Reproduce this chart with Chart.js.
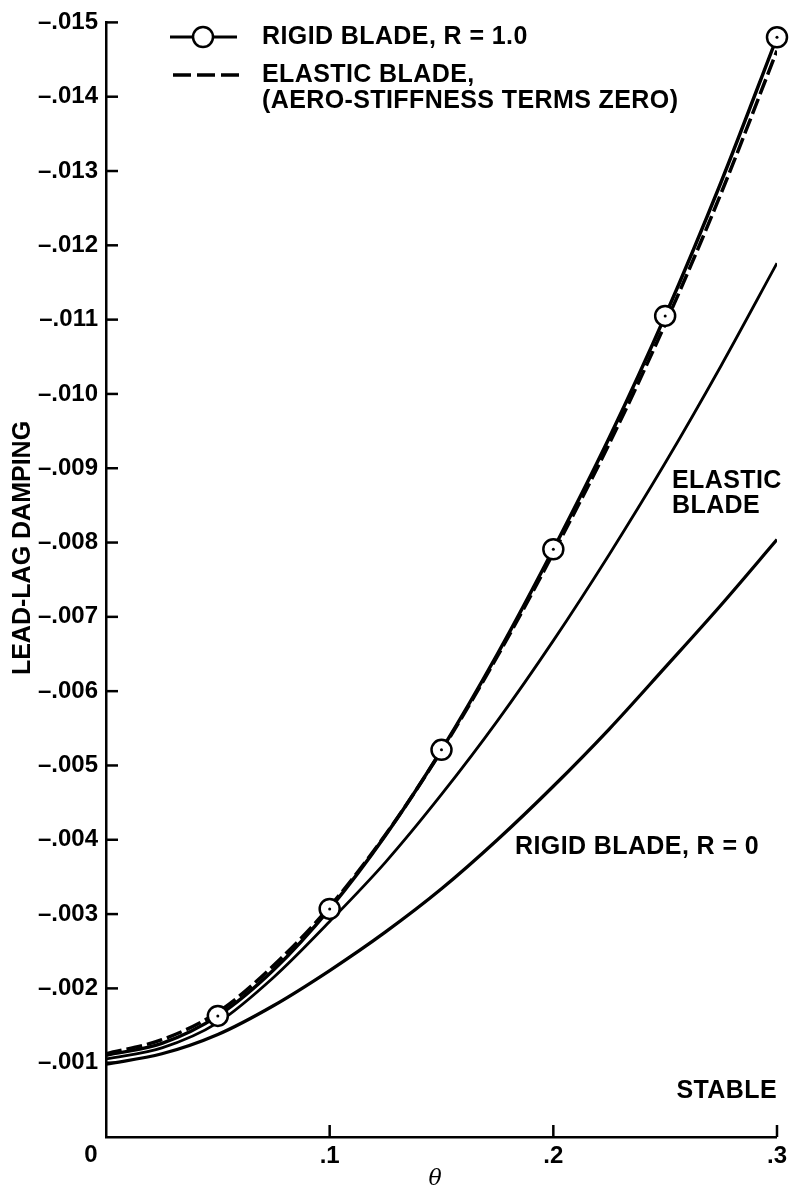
<!doctype html>
<html>
<head>
<meta charset="UTF-8">
<title>Lead-lag damping</title>
<script src="https://cdn.jsdelivr.net/npm/chart.js"></script>
<style>
  html, body { margin: 0; padding: 0; background: #fff; }
  #wrap { width: 792px; height: 1192px; position: relative; }
</style>
</head>
<body>
<div id="wrap"><canvas id="chart"></canvas></div>
<script>
// values (theta vs lead-lag damping)
const thetaCurve = [0, 0.025, 0.05, 0.075, 0.1, 0.125, 0.15, 0.175, 0.2, 0.225, 0.25, 0.275, 0.3];
const rigidR1 = [-0.00110, -0.00126, -0.00163, -0.00225, -0.00307, -0.00406, -0.00521,
  -0.00650, -0.00791, -0.00941, -0.01105, -0.01285, -0.01480];
const elasticAeroZero = [-0.00112, -0.00131, -0.00168, -0.00231, -0.00310, -0.00407, -0.00520,
  -0.00647, -0.00786, -0.00933, -0.01094, -0.01270, -0.01462];
const elasticBlade = [-0.00105, -0.00120, -0.00154, -0.00215, -0.00290, -0.00370, -0.00461,
  -0.00560, -0.00668, -0.00784, -0.00907, -0.01038, -0.01176];
const rigidR0 = [-0.00098, -0.00112, -0.00138, -0.00177, -0.00224, -0.00276, -0.00334,
  -0.00400, -0.00472, -0.00549, -0.00632, -0.00716, -0.00804];

const thetaMarks = [0.05, 0.1, 0.15, 0.2, 0.25, 0.3];
const rigidR1Marks = [-0.00163, -0.00307, -0.00521, -0.00791, -0.01105, -0.01480];

const xTickLabels = ['0', '.1', '.2', '.3'];
const yTickLabels = ['', '–.001', '–.002', '–.003', '–.004', '–.005', '–.006', '–.007',
  '–.008', '–.009', '–.010', '–.011', '–.012', '–.013', '–.014', '–.015'];

const legendItems = ['RIGID BLADE, R = 1.0', 'ELASTIC BLADE,', '(AERO-STIFFNESS TERMS ZERO)'];

const toPoints = (xs, ys) => xs.map((x, i) => ({ x: x, y: ys[i] }));

const FONT = '"Liberation Sans", Arial, sans-serif';

const line = (data, width, dash) => ({
  data: data,
  borderColor: '#000',
  borderWidth: width,
  borderDash: dash || [],
  pointRadius: 0,
  fill: false,
  cubicInterpolationMode: 'monotone',
});

// inside ticks, marker dots, legend and labels
const decor = {
  id: 'decor',
  afterDraw(chart) {
    const ctx = chart.ctx;
    const xs = chart.scales.x;
    const ys = chart.scales.y;
    const area = chart.chartArea;
    ctx.save();
    ctx.strokeStyle = '#000';
    ctx.lineWidth = 2.5;
    ys.ticks.forEach((t) => {
      if (Math.round(t.value * 1000) === 0) return;
      const y = ys.getPixelForValue(t.value);
      ctx.beginPath();
      ctx.moveTo(area.left, y);
      ctx.lineTo(area.left + 12, y);
      ctx.stroke();
    });
    xs.ticks.forEach((t) => {
      if (t.value === 0) return;
      const x = xs.getPixelForValue(t.value);
      ctx.beginPath();
      ctx.moveTo(x, area.bottom);
      ctx.lineTo(x, area.bottom - 12);
      ctx.stroke();
    });

    // centre dots in the circle markers
    const meta = chart.getDatasetMeta(0);
    ctx.fillStyle = '#000';
    meta.data.forEach((p) => {
      ctx.beginPath();
      ctx.arc(p.x, p.y, 1.5, 0, Math.PI * 2);
      ctx.fill();
    });

    // legend
    ctx.lineWidth = 3;
    ctx.beginPath();
    ctx.moveTo(170, 37);
    ctx.lineTo(237, 37);
    ctx.stroke();
    ctx.beginPath();
    ctx.arc(203, 37, 10, 0, Math.PI * 2);
    ctx.fillStyle = '#fff';
    ctx.fill();
    ctx.lineWidth = 2.5;
    ctx.stroke();
    ctx.lineWidth = 3.5;
    ctx.setLineDash([18, 6]);
    ctx.beginPath();
    ctx.moveTo(173, 75);
    ctx.lineTo(239, 75);
    ctx.stroke();
    ctx.setLineDash([]);

    ctx.fillStyle = '#000';
    ctx.font = 'bold 25px ' + FONT;
    ctx.letterSpacing = '0.4px';
    ctx.textBaseline = 'middle';
    ctx.textAlign = 'left';
    ctx.fillText(legendItems[0], 262, 37);
    ctx.fillText(legendItems[1], 262, 75);
    ctx.fillText(legendItems[2], 262, 101);

    // curve labels
    ctx.fillText('ELASTIC', 672, 481);
    ctx.fillText('BLADE', 672, 506);
    ctx.fillText('RIGID BLADE, R = 0', 515, 847);
    ctx.textAlign = 'right';
    ctx.fillText('STABLE', 777, 1091);
    ctx.letterSpacing = '0px';

    // origin label
    ctx.textAlign = 'center';
    ctx.font = 'bold 24px ' + FONT;
    ctx.fillText(xTickLabels[0], 91, 1155);

    // x title
    ctx.font = 'italic 22px "DejaVu Serif", serif';
    ctx.fillText('θ', 435, 1179);

    // y title
    ctx.translate(23, 548);
    ctx.rotate(-Math.PI / 2);
    ctx.font = 'bold 25px ' + FONT;
    ctx.fillText('LEAD-LAG DAMPING', 0, 0);
    ctx.restore();
  },
};

new Chart('chart', {
  type: 'line',
  data: {
    datasets: [
      {
        data: toPoints(thetaMarks, rigidR1Marks),
        showLine: false,
        pointRadius: 10,
        pointBorderWidth: 2.5,
        pointBorderColor: '#000',
        pointBackgroundColor: '#fff',
        clip: false,
      },
      line(toPoints(thetaCurve, rigidR1), 3.5),
      line(toPoints(thetaCurve, elasticAeroZero), 3.5, [16, 5]),
      line(toPoints(thetaCurve, elasticBlade), 2.8),
      line(toPoints(thetaCurve, rigidR0), 3.3),
    ],
  },
  options: {
    responsive: true,
    maintainAspectRatio: false,
    animation: false,
    layout: { padding: { top: 18, right: 11, left: 0, bottom: 0 } },
    plugins: { legend: { display: false }, tooltip: { enabled: false } },
    scales: {
      x: {
        type: 'linear',
        min: 0,
        max: 0.3,
        afterFit: (s) => { s.height = 55; },
        ticks: {
          stepSize: 0.1,
          padding: 5,
          color: '#000',
          font: { family: FONT, size: 24, weight: 'bold' },
          callback: (v) => {
            const i = Math.round(v * 10);
            return i === 0 ? '' : xTickLabels[i];
          },
        },
        grid: { display: true, drawOnChartArea: false, drawTicks: false },
        border: { display: true, color: '#000', width: 2.5 },
      },
      y: {
        type: 'linear',
        min: -0.015,
        max: 0,
        reverse: true,
        afterFit: (s) => { s.width = 106; },
        ticks: {
          stepSize: 0.001,
          padding: 8,
          color: '#000',
          font: { family: FONT, size: 24, weight: 'bold' },
          callback: (v) => yTickLabels[Math.round(Math.abs(v) * 1000)],
        },
        grid: { display: true, drawOnChartArea: false, drawTicks: false },
        border: { display: true, color: '#000', width: 2.5 },
      },
    },
  },
  plugins: [decor],
});
</script>
</body>
</html>
